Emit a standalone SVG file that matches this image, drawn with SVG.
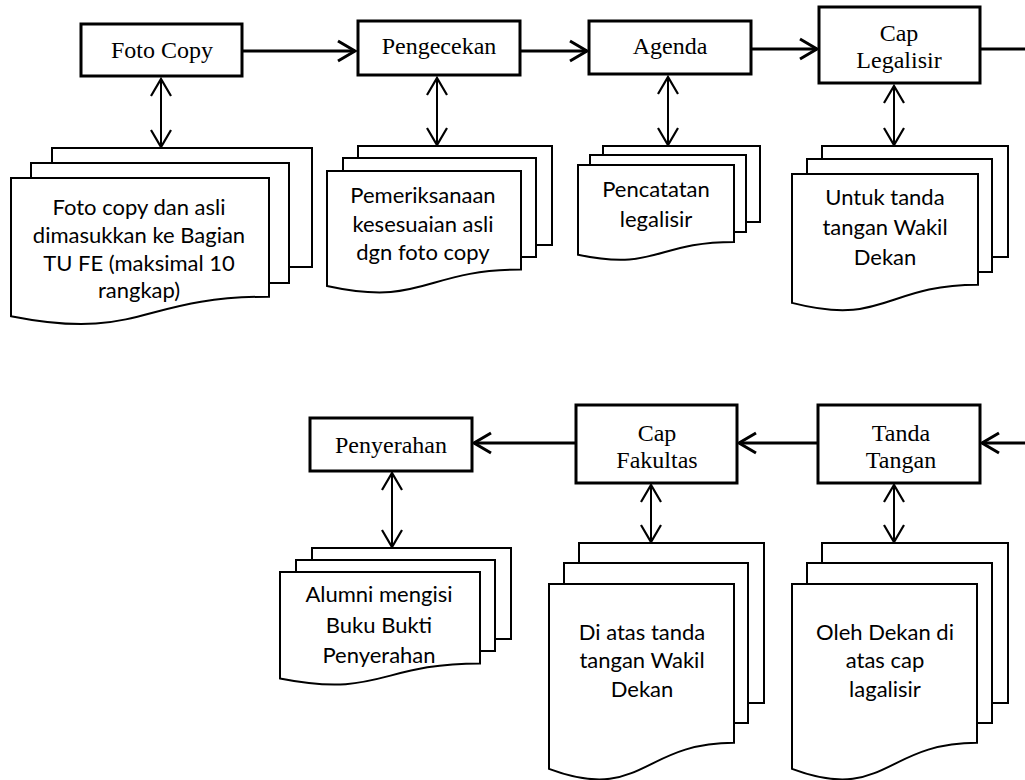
<svg xmlns="http://www.w3.org/2000/svg" width="1025" height="780" viewBox="0 0 1025 780">
  <style>
    .box { fill: #fff; stroke: #000; stroke-width: 3; }
    .page { fill: #fff; stroke: #000; stroke-width: 2; stroke-linejoin: miter; }
    .flow { fill: none; stroke: #000; stroke-width: 3; }
    .link { fill: none; stroke: #000; stroke-width: 2; }
    .lbl { font-family: "Liberation Serif", "Times New Roman", serif; font-size: 24px; fill: #000; text-anchor: middle; }
    .note { font-family: Lato, "Noto Sans", sans-serif; font-size: 22px; fill: #000; text-anchor: middle; }
  </style>
  <defs>
    <marker id="chev" markerUnits="userSpaceOnUse" viewBox="-20 -15 30 30" markerWidth="30" markerHeight="30" refX="0" refY="0" orient="auto-start-reverse" overflow="visible">
      <path d="M-17,-10 L0,0 L-17,10" fill="none" stroke="#000" stroke-width="3"/>
    </marker>
    <marker id="chevThin" markerUnits="userSpaceOnUse" viewBox="-20 -15 30 30" markerWidth="30" markerHeight="30" refX="0" refY="0" orient="auto-start-reverse" overflow="visible">
      <path d="M-17,-10 L0,0 L-17,10" fill="none" stroke="#000" stroke-width="2.2"/>
    </marker>
  </defs>

  <!-- connectors -->
  <g id="connectors">
    <line class="flow" x1="243" y1="51" x2="355" y2="51" marker-end="url(#chev)"/>
    <line class="flow" x1="521" y1="51" x2="587" y2="51" marker-end="url(#chev)"/>
    <line class="flow" x1="752" y1="49" x2="817" y2="49" marker-end="url(#chev)"/>
    <line class="flow" x1="981" y1="49" x2="1025" y2="49"/>
    <line class="flow" x1="1025" y1="443" x2="982" y2="443" marker-end="url(#chev)"/>
    <line class="flow" x1="817" y1="443" x2="739" y2="443" marker-end="url(#chev)"/>
    <line class="flow" x1="575" y1="443" x2="474" y2="443" marker-end="url(#chev)"/>

    <line class="link" x1="161" y1="79" x2="161" y2="147" marker-start="url(#chevThin)" marker-end="url(#chevThin)"/>
    <line class="link" x1="437" y1="78" x2="437" y2="145" marker-start="url(#chevThin)" marker-end="url(#chevThin)"/>
    <line class="link" x1="668" y1="77" x2="668" y2="145" marker-start="url(#chevThin)" marker-end="url(#chevThin)"/>
    <line class="link" x1="894" y1="86" x2="894" y2="145" marker-start="url(#chevThin)" marker-end="url(#chevThin)"/>
    <line class="link" x1="392" y1="473" x2="392" y2="547" marker-start="url(#chevThin)" marker-end="url(#chevThin)"/>
    <line class="link" x1="651" y1="485" x2="651" y2="542" marker-start="url(#chevThin)" marker-end="url(#chevThin)"/>
    <line class="link" x1="894" y1="485" x2="894" y2="542" marker-start="url(#chevThin)" marker-end="url(#chevThin)"/>
  </g>

  <!-- process steps -->
  <g id="foto-copy">
    <rect class="box" x="81" y="24" width="161" height="52"/>
    <text class="lbl" x="162" y="58">Foto Copy</text>
  </g>
  <g id="pengecekan">
    <rect class="box" x="358" y="21" width="162" height="54"/>
    <text class="lbl" x="439" y="54">Pengecekan</text>
  </g>
  <g id="agenda">
    <rect class="box" x="589" y="21" width="162" height="53"/>
    <text class="lbl" x="670" y="54">Agenda</text>
  </g>
  <g id="cap-legalisir">
    <rect class="box" x="819" y="7" width="161" height="76"/>
    <text class="lbl" x="899" y="41">Cap</text>
    <text class="lbl" x="899" y="68">Legalisir</text>
  </g>
  <g id="penyerahan">
    <rect class="box" x="310" y="418" width="162" height="53"/>
    <text class="lbl" x="391" y="453">Penyerahan</text>
  </g>
  <g id="cap-fakultas">
    <rect class="box" x="576" y="405" width="161" height="78"/>
    <text class="lbl" x="657" y="441">Cap</text>
    <text class="lbl" x="657" y="468">Fakultas</text>
  </g>
  <g id="tanda-tangan">
    <rect class="box" x="818" y="405" width="162" height="78"/>
    <text class="lbl" x="901" y="441">Tanda</text>
    <text class="lbl" x="901" y="468">Tangan</text>
  </g>

  <!-- document stacks -->
  <g id="doc-foto-copy">
    <rect class="page" x="52" y="148" width="260" height="119"/>
    <rect class="page" x="31" y="163" width="258" height="120"/>
    <path class="page" d="M11,178 H269 V296.7 C140,296.7 140,341.9 11,316.2 Z"/>
    <text class="note" x="139" y="215">Foto copy dan asli</text>
    <text class="note" x="139" y="243">dimasukkan ke Bagian</text>
    <text class="note" x="139" y="271">TU FE (maksimal 10</text>
    <text class="note" x="139" y="298">rangkap)</text>
  </g>
  <g id="doc-pemeriksaan">
    <rect class="page" x="358" y="146" width="194" height="99"/>
    <rect class="page" x="343" y="158" width="193" height="99"/>
    <path class="page" d="M327,171 H521 V269.6 C424,269.6 424,307.2 327,285.9 Z"/>
    <text class="note" x="423" y="203">Pemeriksanaan</text>
    <text class="note" x="423" y="232">kesesuaian asli</text>
    <text class="note" x="423" y="260">dgn foto copy</text>
  </g>
  <g id="doc-pencatatan">
    <rect class="page" x="603" y="146" width="157" height="76"/>
    <rect class="page" x="590" y="155" width="156" height="77"/>
    <path class="page" d="M578,165 H734 V242 C656,242 656,271.3 578,254.7 Z"/>
    <text class="note" x="656" y="197">Pencatatan</text>
    <text class="note" x="656" y="227">legalisir</text>
  </g>
  <g id="doc-untuk-tanda">
    <rect class="page" x="822" y="146" width="186" height="111"/>
    <rect class="page" x="807" y="159" width="185" height="113"/>
    <path class="page" d="M792,174 H978 V284.7 C885,284.7 885,326.8 792,302.9 Z"/>
    <text class="note" x="885" y="205">Untuk tanda</text>
    <text class="note" x="885" y="235">tangan Wakil</text>
    <text class="note" x="885" y="265">Dekan</text>
  </g>
  <g id="doc-alumni">
    <rect class="page" x="312" y="548" width="199" height="91"/>
    <rect class="page" x="296" y="560" width="199" height="91"/>
    <path class="page" d="M280,572 H480 V663.4 C380,663.4 380,698.3 280,678.5 Z"/>
    <text class="note" x="379" y="602">Alumni mengisi</text>
    <text class="note" x="379" y="633">Buku Bukti</text>
    <text class="note" x="379" y="663">Penyerahan</text>
  </g>
  <g id="doc-di-atas">
    <rect class="page" x="579" y="543" width="185" height="160"/>
    <rect class="page" x="564" y="563" width="184" height="160"/>
    <path class="page" d="M549,584 H734 V742.8 C641.5,742.8 641.5,803.3 549,768.9 Z"/>
    <text class="note" x="642" y="640">Di atas tanda</text>
    <text class="note" x="642" y="668">tangan Wakil</text>
    <text class="note" x="642" y="697">Dekan</text>
  </g>
  <g id="doc-oleh-dekan">
    <rect class="page" x="822" y="543" width="186" height="160"/>
    <rect class="page" x="807" y="563" width="185" height="160"/>
    <path class="page" d="M792,584 H977 V742.8 C884.5,742.8 884.5,803.3 792,768.9 Z"/>
    <text class="note" x="885" y="640">Oleh Dekan di</text>
    <text class="note" x="885" y="668">atas cap</text>
    <text class="note" x="885" y="697">lagalisir</text>
  </g>
</svg>
